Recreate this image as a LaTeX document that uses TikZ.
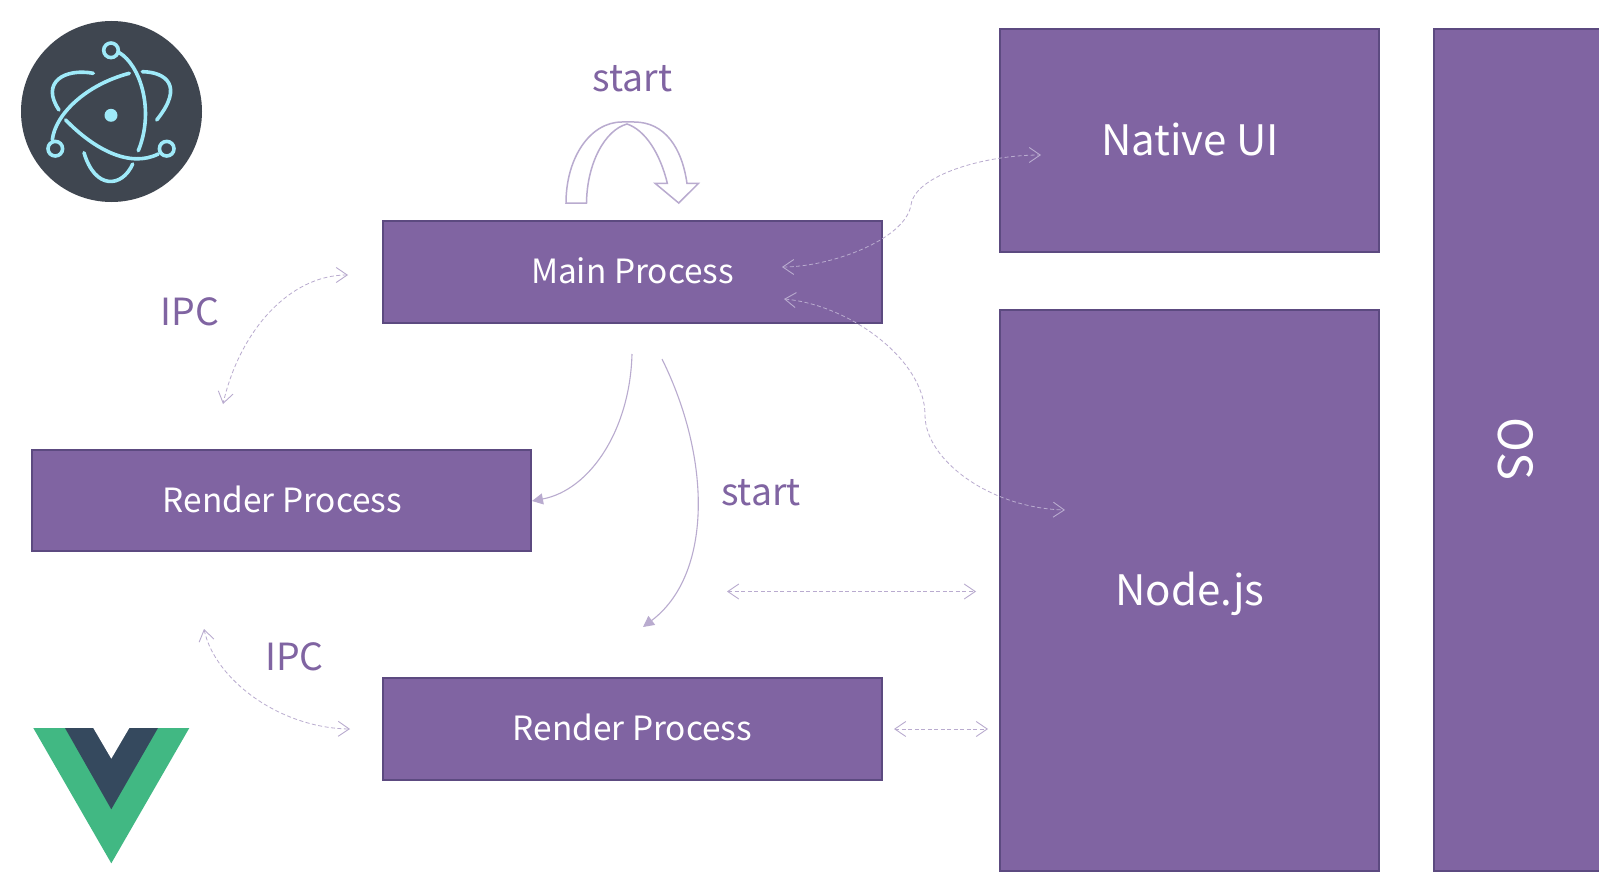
\documentclass[tikz,border=0pt]{standalone}
\usepackage{fontspec}
\setmainfont{Noto Sans CJK SC}
\usetikzlibrary{arrows.meta}
\definecolor{boxfill}{HTML}{8064A2}
\definecolor{boxedge}{HTML}{5C4A80}
\definecolor{linkc}{HTML}{B9ABCF}
\definecolor{atom}{HTML}{9FEAF9}
\definecolor{atombg}{HTML}{3F4650}
\definecolor{vuegreen}{HTML}{41B883}
\definecolor{vuedark}{HTML}{35495E}
\tikzset{
  pbox/.style={draw=boxedge,fill=boxfill,line width=2pt,text=white,inner sep=0pt,outer sep=0pt,anchor=north west},
  ptext/.style={text=boxfill,inner sep=0pt},
  wlabel/.style={text=white,inner sep=0pt},
  dlink/.style={draw=linkc,line width=.8pt,dash pattern=on 4pt off 2.5pt,>={Straight Barb[length=11pt,width=15pt,line width=.9pt]},<->},
  slink/.style={draw=linkc,line width=1.1pt,-{Triangle[length=11pt,width=11pt,fill=linkc]}},
  orbit/.style={draw=atom,line width=3.6pt,line cap=round}
}
\newcommand{\sizeA}{\fontsize{33.4}{38}\selectfont}
\newcommand{\sizeC}{\fontsize{37.4}{42}\selectfont}
\newcommand{\sizeB}{\fontsize{42}{46}\selectfont}
\newcommand{\sizeD}{\fontsize{47}{50}\selectfont}
\begin{document}
\begin{tikzpicture}[x=1pt,y=-1pt]
\useasboundingbox (0,0) rectangle (1599,872);
\fill[white] (0,0) rectangle (1599,872);
% boxes
\node[pbox,minimum width=499pt,minimum height=102pt] (main) at (382.5,220.5) {};
\node[pbox,minimum width=499pt,minimum height=101pt] (r1) at (31.5,449.5) {};
\node[pbox,minimum width=499pt,minimum height=102pt] (r2) at (382.5,677.5) {};
\node[pbox,minimum width=379pt,minimum height=222.5pt] (ui) at (999.5,29.2) {};
\node[pbox,minimum width=379pt,minimum height=561pt] (njs) at (999.5,309.8) {};
\node[pbox,minimum width=168pt,minimum height=841.8pt] (os) at (1433.5,29.2) {};
% labels
\node[wlabel,font=\sizeA] (tmain) at (632.5,271) {Main Process};
\node[wlabel,font=\sizeA] (tr1) at (282.5,499) {Render Process};
\node[wlabel,font=\sizeA] (tr2) at (632.5,727) {Render Process};
\node[wlabel,font=\sizeB] (tui) at (1190,139) {Native UI};
\node[wlabel,font=\sizeB] (tnjs) at (1190,594) {Node.js};
\node[wlabel,font=\sizeD,rotate=-90] (tos) at (1516,449) {OS};
\node[ptext,font=\sizeC] (s1) at (632.5,79) {start};
\node[ptext,font=\sizeC] (s2) at (761,493) {start};
\node[ptext,font=\sizeC] (i1) at (190,312) {IPC};
\node[ptext,font=\sizeC] (i2) at (294.5,657) {IPC};
% connector ends
\coordinate (a1) at (782,267);
\coordinate (a2) at (1041,155);
\coordinate (b1) at (784,299);
\coordinate (b2) at (1065,510);
\coordinate (c1) at (348,275);
\coordinate (c2) at (223,404);
\coordinate (d1) at (204,629);
\coordinate (d2) at (350,729);
\coordinate (e1) at (727,591.5);
\coordinate (e2) at (976,591.5);
\coordinate (f1) at (894,729);
\coordinate (f2) at (988,729);
\coordinate (g1) at (632,354);
\coordinate (g2) at (532,501);
\coordinate (h1) at (662,359);
\coordinate (h2) at (643,627);
% dashed links
\draw[dlink] (a1) .. controls (830,267) and (905,240) .. (911,205) .. controls (915,175) and (985,155) .. (a2);
\draw[dlink] (b1) .. controls (850,305) and (925,360) .. (925,415) .. controls (925,460) and (990,508) .. (b2);
\draw[dlink] (c1) .. controls (290,275) and (240,330) .. (c2);
\draw[dlink] (d1) .. controls (215,680) and (280,728) .. (d2);
\draw[dlink] (e1) -- (e2);
\draw[dlink] (f1) -- (f2);
% solid links
\draw[slink] (g1) .. controls (630,430) and (590,490) .. (g2);
\draw[slink] (h1) .. controls (712,460) and (712,575) .. (h2);
% curved block arrow
\draw[draw=linkc,line width=1.5pt,line join=miter] (566,203) .. controls (566,158) and (590,122) .. (622,122)
  -- (634,122) .. controls (665,122) and (682,148) .. (687,183.5) -- (698.4,183.5) -- (678.7,203) -- (655.3,183.5) -- (667.4,183.5)
  .. controls (660,153) and (645,130) .. (627,124) .. controls (605,130) and (587,163) .. (586.5,203) -- cycle;
% electron logo
\fill[atombg] (111.5,111.5) circle (90.5);
\draw[orbit] (111,50.3) circle (7.3);
\draw[orbit] (55.3,148.7) circle (7.3);
\draw[orbit] (166.7,148.7) circle (7.3);
\fill[atom] (111,115.3) circle (6.5);
\draw[orbit] (119.3,52.7) .. controls (140,65) and (155,110) .. (138.3,150.7);
\draw[orbit] (52.3,140) .. controls (55,115) and (85,85) .. (129.3,73.3);
\draw[orbit] (158.3,154) .. controls (130,168) and (95,150) .. (65.7,120);
\draw[orbit] (93.3,73.3) .. controls (65,68) and (40,82) .. (59,110);
\draw[orbit] (142.3,71.7) .. controls (165,72) and (185,85) .. (156.7,120);
\draw[orbit] (84,152.7) .. controls (95,190) and (122,188) .. (132.7,164);
% vue logo
\fill[vuegreen] (33.3,728) -- (189.3,728) -- (111.3,863.3) -- cycle;
\fill[vuedark] (65,728) -- (158,728) -- (111.3,809.3) -- cycle;
\fill[white] (93.3,728) -- (129.3,728) -- (111.3,758.7) -- cycle;
\end{tikzpicture}
\end{document}
